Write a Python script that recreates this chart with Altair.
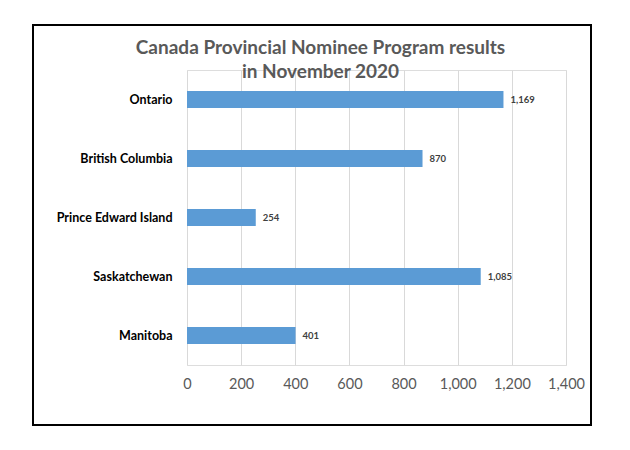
import altair as alt
import pandas as pd

provinces = ["Ontario", "British Columbia", "Prince Edward Island", "Saskatchewan", "Manitoba"]
results = [1169, 870, 254, 1085, 401]
x_ticks = [0, 200, 400, 600, 800, 1000, 1200, 1400]

df = pd.DataFrame({"province": provinces, "value": results})

W, H = 379, 295
PL, PT = 187, 70

y_enc = alt.Y("province:N", sort=provinces, title=None,
              scale=alt.Scale(paddingInner=0.71, paddingOuter=0.355),
              axis=alt.Axis(domain=False, ticks=False, labelFont="Lato", labelFontWeight="bold",
                            labelFontSize=12.5, labelColor="#000000", labelPadding=15, grid=False))
x_enc = alt.X("value:Q", title=None,
              scale=alt.Scale(domain=[0, 1400], nice=False),
              axis=alt.Axis(values=x_ticks, format=",d", domain=False, ticks=False,
                            labelOverlap=False, labelFlush=False, labelFont="Lato",
                            labelFontSize=14.5, labelColor="#595959", labelPadding=12,
                            grid=True, gridColor="#D9D9D9", gridWidth=1))

bars = alt.Chart(df).mark_bar(color="#5B9BD5").encode(x=x_enc, y=y_enc)
labels = alt.Chart(df).mark_text(align="left", dx=7, font="Lato", fontWeight="bold",
                                 fontSize=9.5, color="#404040").encode(
    x=x_enc, y=y_enc, text=alt.Text("value:Q", format=","))

border = alt.Chart(df).mark_rect(fill=None, stroke="#000000", strokeWidth=2).encode(
    x=alt.value(33 - PL), x2=alt.value(591 - PL), y=alt.value(25 - PT), y2=alt.value(425 - PT))

chart = alt.layer(bars, labels, border).properties(
    width=W, height=H,
    title=alt.TitleParams(["Canada Provincial Nominee Program results", "in November 2020"],
                          font="Lato", fontSize=19, fontWeight="bold", color="#595959",
                          anchor="middle", frame="group", offset=0, lineHeight=24,
                          dy=58, dx=-56),
    autosize=alt.AutoSizeParams(type="none"),
    padding={"left": PL, "top": PT, "right": 630 - PL - W, "bottom": 450 - PT - H},
).configure_view(stroke=None).configure(background="white")

chart.save("out.html", embed_options={"renderer": "svg", "actions": False})
